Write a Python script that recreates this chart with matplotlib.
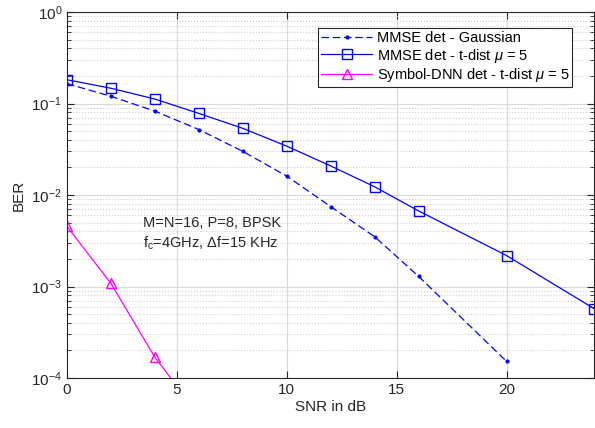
import numpy as np
import matplotlib.pyplot as plt
from matplotlib.ticker import LogLocator, NullFormatter

plt.rcParams['font.family'] = ['Liberation Sans', 'DejaVu Sans']
plt.rcParams['mathtext.fontset'] = 'custom'
plt.rcParams['mathtext.rm'] = 'Liberation Sans'
plt.rcParams['mathtext.it'] = 'Liberation Sans:italic'

# data
snr_gauss = [0, 2, 4, 6, 8, 10, 12, 14, 16, 20]
ber_gauss = [0.165, 0.12, 0.0826, 0.052, 0.030, 0.0161, 0.00747, 0.0035, 0.00129, 1.52e-4]

snr_tdist = [0, 2, 4, 6, 8, 10, 12, 14, 16, 20, 24]
ber_tdist = [0.182, 0.147, 0.112, 0.078, 0.0536, 0.0342, 0.0208, 0.0123, 0.0067, 0.00218, 5.7e-4]

snr_dnn = [0, 2, 4, 6]
ber_dnn = [0.00454, 0.00108, 1.68e-4, 4e-5]

fig = plt.figure(figsize=(5.95, 4.28), dpi=100)
ax = fig.add_axes([0.1126, 0.1168, 0.8865, 0.855])

ax.semilogy(snr_gauss, ber_gauss, '--', color='#0000ff', marker='.', markersize=4,
            linewidth=0.9, dashes=(6, 3), label='MMSE det - Gaussian')
ax.semilogy(snr_tdist, ber_tdist, '-', color='#0000ff', marker='s', markersize=6.5,
            markerfacecolor='none', linewidth=0.9, label=r'MMSE det - t-dist $\mu$ = 5')
ax.semilogy(snr_dnn, ber_dnn, '-', color='#ff00ff', marker='^', markersize=7.5,
            markerfacecolor='none', linewidth=0.9, label=r'Symbol-DNN det - t-dist $\mu$ = 5')

ax.set_xlim(0, 24)
ax.set_ylim(1e-4, 1)
ax.set_xticks([0, 5, 10, 15, 20])
ax.yaxis.set_major_locator(LogLocator(base=10, numticks=10))
ax.yaxis.set_minor_locator(LogLocator(base=10, subs=np.arange(2, 10), numticks=10))
ax.yaxis.set_minor_formatter(NullFormatter())

ax.grid(True, which='major', color='#d9d9d9', linewidth=0.8)
ax.grid(True, which='minor', axis='y', color='#cfcfcf', linestyle=':', linewidth=0.8)
ax.set_axisbelow(True)

ax.tick_params(which='both', direction='in', top=True, right=True, labelsize=11, colors='#262626')
ax.tick_params(which='major', length=5)
ax.tick_params(which='minor', length=3)
for s in ax.spines.values():
    s.set_color('#262626')
    s.set_linewidth(0.8)

ax.set_xlabel('SNR in dB', fontsize=11, color='#262626', labelpad=2)
ax.set_ylabel('BER', fontsize=11, color='#262626', labelpad=4)

ax.text(3.45, 4.9e-3, 'M=N=16, P=8, BPSK', fontsize=10.5, va='center', color='#262626')
ax.text(3.45, 3.0e-3, r'f$_\mathrm{c}$=4GHz, $\Delta$f=15 KHz', fontsize=10.5, va='center', color='#262626')

leg = ax.legend(loc='upper right', bbox_to_anchor=(0.958, 0.956), fontsize=10.5, frameon=True,
                fancybox=False, edgecolor='#262626', framealpha=1, borderpad=0.2,
                labelspacing=0.1, handlelength=3.5, handletextpad=0.3, borderaxespad=0)
leg.get_frame().set_linewidth(0.8)

fig.savefig('out.png', dpi=100)
